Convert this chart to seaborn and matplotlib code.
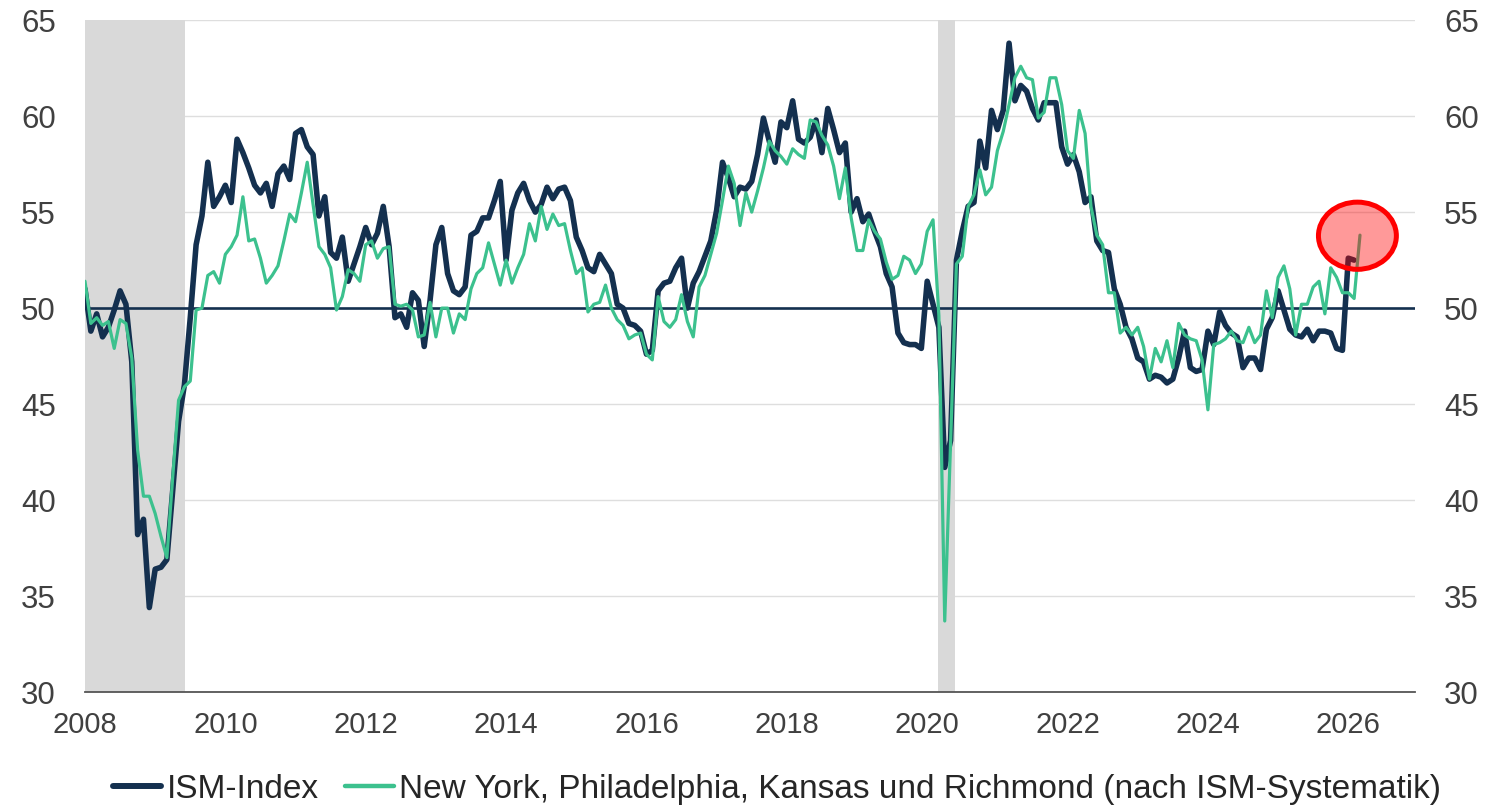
import numpy as np
import pandas as pd
import matplotlib
matplotlib.use("Agg")
import matplotlib.pyplot as plt
from matplotlib.patches import Ellipse
from matplotlib.lines import Line2D
import seaborn as sns

# monthly values from Jan 2008
ism_index = [
    51.0, 48.8, 49.7, 48.5, 49.0, 49.9, 50.9, 50.2, 47.2, 38.2, 39.0, 34.4,  # 2008
    36.4, 36.5, 36.9, 40.5, 44.1, 46.0, 49.5, 53.3, 54.8, 57.6, 55.3, 55.8,  # 2009
    56.4, 55.5, 58.8, 58.1, 57.3, 56.4, 56.0, 56.5, 55.3, 57.0, 57.4, 56.7,  # 2010
    59.1, 59.3, 58.4, 58.0, 54.8, 55.8, 52.9, 52.6, 53.7, 51.4, 52.3, 53.2,  # 2011
    54.2, 53.3, 53.9, 55.3, 53.2, 49.5, 49.7, 49.0, 50.8, 50.4, 48.0, 50.4,  # 2012
    53.3, 54.2, 51.8, 50.9, 50.7, 51.1, 53.8, 54.0, 54.7, 54.7, 55.6, 56.6,  # 2013
    52.5, 55.1, 56.0, 56.5, 55.6, 55.0, 55.4, 56.3, 55.7, 56.2, 56.3, 55.6,  # 2014
    53.7, 53.0, 52.1, 51.9, 52.8, 52.3, 51.8, 50.2, 50.0, 49.2, 49.1, 48.8,  # 2015
    47.6, 47.8, 50.9, 51.3, 51.4, 52.1, 52.6, 50.0, 51.3, 51.9, 52.7, 53.5,  # 2016
    55.1, 57.6, 56.8, 55.8, 56.3, 56.2, 56.6, 58.0, 59.9, 58.7, 57.6, 59.7,  # 2017
    59.4, 60.8, 58.8, 58.6, 58.9, 59.8, 58.1, 60.4, 59.3, 58.1, 58.6, 55.0,  # 2018
    55.7, 54.5, 54.9, 54.0, 53.2, 51.8, 51.1, 48.7, 48.2, 48.1, 48.1, 47.9,  # 2019
    51.4, 50.2, 49.0, 41.7, 43.1, 52.5, 54.0, 55.3, 55.5, 58.7, 57.3, 60.3,  # 2020
    59.3, 60.3, 63.8, 60.8, 61.6, 61.3, 60.4, 59.8, 60.7, 60.7, 60.7, 58.4,  # 2021
    57.5, 58.0, 57.1, 55.5, 55.8, 53.5, 53.0, 52.9, 51.0, 50.2, 49.0, 48.4,  # 2022
    47.4, 47.2, 46.3, 46.5, 46.4, 46.1, 46.3, 47.4, 48.8, 46.9, 46.7, 46.8,  # 2023
    48.8, 48.1, 49.8, 49.1, 48.7, 48.5, 46.9, 47.4, 47.4, 46.8, 48.9, 49.5,  # 2024
    50.9, 49.9, 48.9, 48.6, 48.5, 48.9, 48.3, 48.8, 48.8, 48.7, 47.9, 47.8,  # 2025
    52.6, 52.5,                                                              # 2026
]

regional = [
    51.4, 49.2, 49.5, 49.1, 49.3, 47.9, 49.4, 49.2, 47.4, 42.6, 40.2, 40.2,  # 2008
    39.3, 38.1, 37.0, 41.2, 45.2, 45.9, 46.2, 49.9, 50.0, 51.7, 51.9, 51.3,  # 2009
    52.8, 53.2, 53.8, 55.8, 53.5, 53.6, 52.6, 51.3, 51.7, 52.2, 53.5, 54.9,  # 2010
    54.5, 56.0, 57.6, 55.4, 53.2, 52.8, 52.1, 49.9, 50.6, 52.0, 51.8, 51.4,  # 2011
    53.3, 53.5, 52.6, 53.1, 53.2, 50.2, 50.1, 50.2, 49.9, 48.5, 48.6, 50.3,  # 2012
    48.5, 50.0, 50.0, 48.7, 49.7, 49.4, 51.0, 51.8, 52.1, 53.4, 52.3, 51.2,  # 2013
    52.5, 51.3, 52.1, 52.8, 54.4, 53.5, 55.3, 54.1, 54.9, 54.3, 54.4, 53.0,  # 2014
    51.8, 52.1, 49.8, 50.2, 50.3, 51.2, 50.0, 49.4, 49.1, 48.4, 48.6, 48.7,  # 2015
    47.6, 47.3, 50.6, 49.3, 49.0, 49.4, 50.7, 49.3, 48.5, 51.1, 51.7, 52.8,  # 2016
    53.9, 55.6, 57.4, 56.5, 54.3, 56.0, 55.0, 56.1, 57.3, 58.7, 58.2, 57.9,  # 2017
    57.5, 58.3, 58.0, 57.8, 59.8, 59.7, 59.0, 58.5, 57.4, 55.7, 57.3, 54.7,  # 2018
    53.0, 53.0, 54.6, 54.0, 53.6, 52.4, 51.5, 51.7, 52.7, 52.5, 51.8, 52.3,  # 2019
    54.0, 54.6, 49.6, 33.7, 43.0, 52.3, 52.7, 55.3, 55.9, 57.2, 55.9, 56.3,  # 2020
    58.2, 59.2, 60.6, 62.0, 62.6, 62.0, 61.9, 59.9, 60.2, 62.0, 62.0, 60.6,  # 2021
    58.2, 57.8, 60.3, 59.1, 55.3, 53.8, 53.3, 50.8, 50.8, 48.7, 49.0, 48.6,  # 2022
    49.0, 48.0, 46.3, 47.9, 47.2, 48.3, 46.9, 49.2, 48.6, 48.4, 48.3, 47.3,  # 2023
    44.7, 48.1, 48.2, 48.4, 48.8, 48.3, 48.2, 49.0, 48.2, 48.6, 50.9, 49.5,  # 2024
    51.6, 52.2, 51.0, 48.6, 50.2, 50.2, 51.1, 51.4, 49.7, 52.1, 51.6, 50.8,  # 2025
    50.8, 50.5, 53.8,                                                        # 2026
]

recessions = [(2008.0, 2009.42), (2020.15, 2020.40)]
year_ticks = list(range(2008, 2027, 2))
y_ticks = list(range(30, 66, 5))

ism_label = "ISM-Index"
reg_label = "New York, Philadelphia, Kansas und Richmond (nach ISM-Systematik)"

NAVY = "#14304f"
GREEN = "#3cc18e"

ism_df = pd.DataFrame({"Jahr": 2008 + np.arange(len(ism_index)) / 12, "Wert": ism_index})
reg_df = pd.DataFrame({"Jahr": 2008 + np.arange(len(regional)) / 12, "Wert": regional})

sns.set_style("white")
plt.rcParams["font.family"] = ["Liberation Sans", "DejaVu Sans"]

fig = plt.figure(figsize=(14.91, 8.07), dpi=100)
ax = fig.add_axes([0.057, 0.1425, 0.892, 0.8325])

# grid and recession shading
ax.set_axisbelow(True)
ax.yaxis.grid(True, color="#dedede", lw=1.0)
for a, b in recessions:
    ax.axvspan(a, b, color="#d9d9d9", lw=0, zorder=1)
ax.axhline(50, color=NAVY, lw=1.9, zorder=2)

sns.lineplot(data=ism_df, x="Jahr", y="Wert", color=NAVY, lw=4.0, ax=ax, zorder=3)
sns.lineplot(data=reg_df, x="Jahr", y="Wert", color=GREEN, lw=2.3, ax=ax, zorder=4)

# highlight of latest values
ax.add_patch(Ellipse((2026.13, 53.77), 1.11, 3.5, facecolor=(1, 0, 0, 0.4),
                     edgecolor="#ff0000", lw=3.6, zorder=5))

ax.set_xlim(2008, 2026.95)
ax.set_ylim(30, 65)
ax.set_xticks(year_ticks)
ax.set_yticks(y_ticks)
ax.set_xlabel("")
ax.set_ylabel("")

for s in ["top", "left", "right"]:
    ax.spines[s].set_visible(False)
ax.spines["bottom"].set_color("#555555")
ax.spines["bottom"].set_linewidth(1.3)

ax.tick_params(axis="x", length=5, width=1.1, color="#555555", pad=9,
               labelsize=21, labelcolor="#404040")
ax.tick_params(axis="y", length=0, labelsize=22.5, labelcolor="#404040",
               left=False, right=False, labelleft=True, labelright=True, pad=21)

handles = [Line2D([], [], color=NAVY, lw=4.3), Line2D([], [], color=GREEN, lw=3.2)]
fig.legend(handles, [ism_label, reg_label], loc="center", bbox_to_anchor=(0.521, 0.022),
           ncol=2, frameon=False, fontsize=24, handlelength=1.45, handletextpad=0.15,
           columnspacing=0.8)

fig.savefig("out.png", dpi=100)
